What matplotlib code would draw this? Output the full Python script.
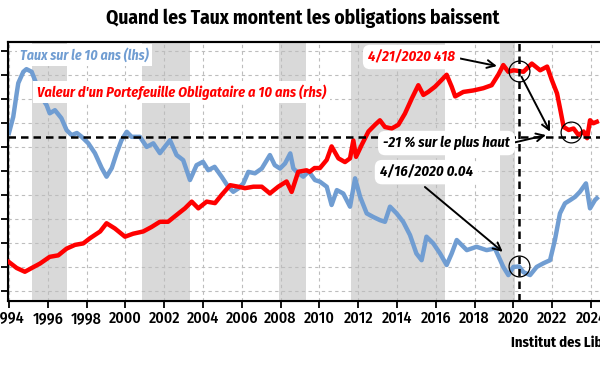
"""Quand les Taux montent les obligations baissent - taux 10 ans vs valeur d'un portefeuille obligataire."""

import matplotlib.pyplot as plt

plt.rcParams["font.family"] = ["Fira Sans Condensed", "DejaVu Sans"]

# taux sur le 10 ans (lhs), en %
RATE_YEARS = [
    1994.0, 1994.22, 1994.4, 1994.48, 1994.74, 1994.9, 1995.17, 1995.34, 1995.6, 1995.94,
    1996.1, 1996.37, 1996.7, 1996.97, 1997.23, 1997.5, 1997.75, 1998.09, 1998.43, 1998.78,
    1999.03, 1999.3, 1999.55, 1999.8, 2000.07, 2000.32, 2000.75, 2001.1, 2001.44, 2001.78,
    2002.3, 2002.64, 2002.98, 2003.33, 2003.67, 2004.0, 2004.27, 2004.6, 2004.96, 2005.3,
    2005.56, 2005.82, 2006.08, 2006.34, 2006.68, 2007.03, 2007.45, 2007.7, 2007.97, 2008.23,
    2008.5, 2008.66, 2008.92, 2009.17, 2009.45, 2009.77, 2010.03, 2010.38, 2010.63, 2010.9,
    2011.23, 2011.58, 2011.84, 2012.1, 2012.44, 2012.78, 2013.12, 2013.38, 2013.64, 2013.98,
    2014.32, 2014.67, 2015.0, 2015.27, 2015.52, 2015.87, 2016.22, 2016.56, 2016.82, 2017.08,
    2017.6, 2018.1, 2018.62, 2019.05, 2019.48, 2019.74, 2020.0, 2020.29, 2020.52, 2020.86,
    2021.2, 2021.54, 2021.89, 2022.14, 2022.4, 2022.66, 2022.92, 2023.18, 2023.43, 2023.74,
    2023.95, 2024.2, 2024.3,
]
RATE_VALUES = [
    5.6, 6.27, 7.26, 7.68, 8.15, 8.26, 8.15, 7.8, 7.18, 6.76,
    6.42, 6.55, 6.22, 5.72, 5.51, 5.6, 5.44, 5.17, 4.76, 4.14,
    3.78, 4.14, 4.76, 5.3, 5.65, 5.44, 5.44, 5.02, 5.17, 4.76,
    5.3, 4.68, 4.47, 3.64, 4.26, 4.4, 4.05, 4.19, 3.78, 3.36,
    3.15, 3.29, 3.5, 3.98, 3.92, 4.12, 4.68, 4.26, 4.12, 4.33,
    4.75, 4.12, 3.92, 3.78, 4.0, 3.64, 3.57, 3.36, 2.6, 3.22,
    3.08, 2.53, 3.71, 2.94, 2.25, 2.1, 1.97, 1.9, 2.53, 2.25,
    1.9, 1.35, 0.58, 0.3, 1.28, 1.0, 0.58, 0.1, 0.58, 1.14,
    0.72, 0.86, 0.72, 0.79, 0.02, -0.32, 0.02, 0.04, -0.2, -0.32,
    0.02, 0.17, 0.3, 1.14, 2.25, 2.67, 2.8, 2.94, 3.15, 3.5,
    2.46, 2.8, 2.88,
]

# valeur d'un portefeuille obligataire a 10 ans (rhs)
BOND_YEARS = [
    1994.0, 1994.4, 1994.82, 1995.17, 1995.6, 1996.1, 1996.54, 1996.97, 1997.4, 1997.83,
    1998.18, 1998.7, 1999.03, 1999.46, 1999.98, 2000.4, 2000.92, 2001.35, 2001.78, 2002.2,
    2002.73, 2003.07, 2003.42, 2003.76, 2004.19, 2004.62, 2004.96, 2005.4, 2005.82, 2006.16,
    2006.6, 2007.03, 2007.45, 2007.88, 2008.31, 2008.57, 2008.91, 2009.34, 2009.5, 2009.75,
    2010.03, 2010.38, 2010.63, 2010.98, 2011.32, 2011.58, 2011.75, 2011.89, 2012.18, 2012.53,
    2012.87, 2013.12, 2013.38, 2013.73, 2014.07, 2014.41, 2014.76, 2015.1, 2015.36, 2015.61,
    2015.96, 2016.3, 2016.56, 2016.82, 2017.0, 2017.42, 2017.94, 2018.45, 2018.88, 2019.22,
    2019.48, 2019.74, 2020.0, 2020.3, 2020.52, 2020.95, 2021.38, 2021.74, 2021.98, 2022.25,
    2022.42, 2022.59, 2022.85, 2023.1, 2023.36, 2023.62, 2023.8, 2023.95, 2024.12, 2024.3,
]
BOND_VALUES = [
    162, 154, 149, 154, 160, 169, 171, 180, 185, 187,
    194, 203, 214, 207, 196, 200, 203, 209, 216, 216,
    227, 234, 243, 234, 243, 241, 252, 265, 263, 261,
    263, 263, 254, 263, 270, 256, 283, 285, 283, 288,
    288, 299, 317, 301, 296, 301, 325, 303, 319, 337,
    346, 352, 343, 341, 346, 361, 381, 399, 386, 390,
    397, 406, 413, 397, 384, 390, 392, 395, 399, 413,
    426, 417, 419, 418, 417, 428, 419, 424, 406, 388,
    366, 343, 339, 341, 332, 337, 328, 352, 348, 350,
]

SHADED_PERIODS = [(1995.2, 1997.0), (2000.87, 2003.33), (2007.92, 2009.3),
                  (2011.65, 2016.47), (2019.3, 2020.1)]
TICK_YEARS = list(range(1994, 2025, 2))
RATE_TICKS = list(range(-1, 10))

PEAK_DATE = 2020.3
PEAK_VALUE = 418
DRAWDOWN_LEVEL = 330
TROUGH_POINT = (2022.95, 336)
LOW_RATE = 0.04

BLUE = "#709DD2"
RED = "#FF0000"


def main() -> None:
    fig = plt.figure(figsize=(6, 3.65), dpi=100)
    ax = fig.add_axes([8 / 600, 0.1753, 602 / 600, 0.7096])
    ax2 = ax.twinx()

    for start, end in SHADED_PERIODS:
        ax.axvspan(start, end, color="#D9D9D9", lw=0, zorder=0)

    ax.plot(RATE_YEARS, RATE_VALUES, color=BLUE, lw=3.2, solid_joinstyle="round", zorder=3)
    ax2.plot(BOND_YEARS, BOND_VALUES, color=RED, lw=3.2, solid_joinstyle="round", zorder=3)

    ax.set_xlim(1993.95, 2024.98)
    ax.set_ylim(-1.40, 9.39)
    ax2.set_ylim(109.8, 456.9)

    ax.set_xticks(TICK_YEARS)
    ax.set_xticklabels([str(y) for y in TICK_YEARS], fontsize=11.5, fontweight="medium")
    ax.set_yticks(RATE_TICKS)
    ax.set_yticklabels([])
    ax2.set_yticks([])
    ax.tick_params(axis="x", length=5, width=1.3, pad=2)
    ax.tick_params(axis="y", length=5, width=1.3)
    ax.grid(True, color="#BDBDBD", lw=0.8, ls=(0, (3, 3)), zorder=1)
    ax.set_axisbelow(True)
    for spine in ax.spines.values():
        spine.set_linewidth(1.5)
    ax2.spines["right"].set_visible(False)
    ax2.spines["top"].set_linewidth(1.5)

    # repères
    ax2.axhline(DRAWDOWN_LEVEL, color="black", lw=1.8, ls=(0, (3, 2)), zorder=4)
    ax2.axvline(PEAK_DATE, color="black", lw=1.8, ls=(0, (3, 2)), zorder=4)

    ring = dict(marker="o", markersize=15, markerfacecolor="none",
                markeredgecolor="black", markeredgewidth=0.9, zorder=5)
    ax2.plot([PEAK_DATE], [PEAK_VALUE], **ring)
    ax2.plot([TROUGH_POINT[0]], [TROUGH_POINT[1]], **ring)
    ax2.plot([PEAK_DATE], [LOW_RATE], transform=ax.transData, **ring)

    arrow = dict(arrowstyle="->", color="black", lw=1.4, mutation_scale=14,
                 shrinkA=0, shrinkB=0)
    ax2.annotate("", xy=(2019.15, 424.7), xytext=(2017.14, 435.4), arrowprops=arrow, zorder=6)
    ax2.annotate("", xy=(2021.89, 336.7), xytext=(2020.42, 410.4), arrowprops=arrow, zorder=6)
    ax2.annotate("", xy=(2021.68, 332.2), xytext=(2019.93, 321.5), arrowprops=arrow, zorder=6)
    ax2.annotate("", xy=(2019.45, 0.65), xytext=(2015.44, 3.35), xycoords=ax.transData,
                 textcoords=ax.transData, arrowprops=arrow, zorder=6)

    box = dict(boxstyle="round,pad=0.35,rounding_size=0.5", fc="white", ec="none")
    label = dict(fontweight="bold", fontstyle="italic", va="center", zorder=7)
    ax2.text(2016.99, 436.8, "4/21/2020 418", color=RED, ha="right", bbox=box,
             fontsize=10.5, **label)
    ax2.text(2019.82, 321.5, "-21 % sur le plus haut", color="black", ha="right", bbox=box,
             fontsize=10.5, **label)
    ax2.text(2013.12, 3.97, "4/16/2020 0.04", color="black", ha="left", bbox=box,
             transform=ax.transData, fontsize=10.5, **label)

    flat = dict(boxstyle="square,pad=0.25", fc="white", ec="none")
    ax2.text(0.02, 0.95, "Taux sur le 10 ans (lhs)", transform=ax2.transAxes, color=BLUE,
             ha="left", bbox=flat, fontsize=10, **label)
    ax2.text(0.048, 0.807, "Valeur d'un Portefeuille Obligataire a 10 ans (rhs)",
             transform=ax2.transAxes, color=RED, ha="left", bbox=flat, fontsize=10.3, **label)

    fig.text(0.505, 0.95, "Quand les Taux montent les obligations baissent", ha="center",
             va="center", fontsize=14, fontweight="bold")
    fig.text(511 / 600, 1 - 343 / 365, "Institut des Libertés", ha="left", va="center",
             fontsize=10.5, fontweight="bold")

    fig.savefig("out.png", dpi=100)


if __name__ == "__main__":
    main()
